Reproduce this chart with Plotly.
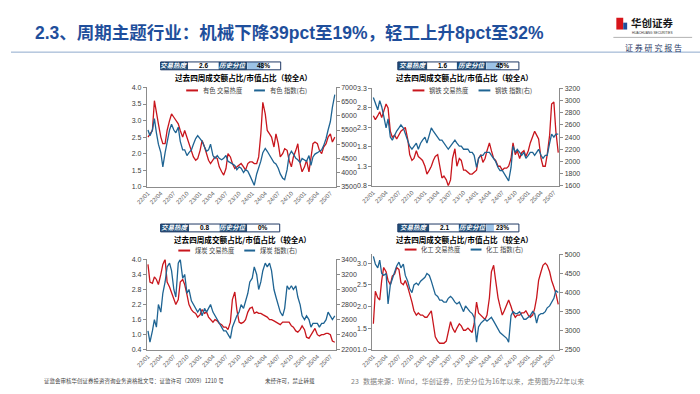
import plotly.graph_objects as go
import pandas as pd

# ---------------- data ----------------
dates = pd.date_range("2022-01-01", periods=87, freq="SMS")

sectors = ["有色", "钢铁", "煤炭", "化工"]
heat_now = ["2.6", "1.6", "0.8", "2.1"]
pct_now = [48, 45, 0, 23]

ys_heat = [2.5, 2.6, 2.7, 3.6, 3.3, 2.9, 2.5, 2.3, 2.3, 2.7,
           3.0, 3.2, 3.1, 3.0, 2.9, 2.7, 2.5, 2.7, 2.5, 2.3,
           2.1, 1.9, 1.8, 1.85, 2.1, 2.4, 2.2, 2.0, 1.8, 1.7,
           1.8, 1.9, 1.85, 1.6, 1.45, 1.35, 1.55, 2.0, 1.9, 1.7,
           1.55, 1.6, 1.65, 1.7, 1.6, 1.5, 1.7, 1.75, 1.75, 1.7,
           1.7, 1.9, 2.6, 3.55, 3.2, 2.7, 2.6, 2.5, 2.2, 2.6,
           2.3, 1.9, 2.0, 2.15, 2.1, 1.8, 1.6, 1.9, 2.1, 2.3,
           1.7, 1.45, 1.6, 1.8, 1.45, 1.9, 2.3, 2.35, 2.3, 2.1,
           2.0, 2.2, 2.3, 2.5, 2.6, 2.35, 2.5]
ys_index = [5500, 5300, 5500, 5900, 5400, 5000, 4700, 4200, 4700, 5100,
            5500, 5700, 5500, 5400, 5600, 5100, 4800, 4800, 4600, 4700,
            4800, 5000, 5200, 5300, 5200, 5100, 4900, 4750, 4800, 5000,
            4600, 4500, 4600, 4500, 4450, 4500, 4600, 4400, 4350, 4300,
            4250, 4100, 4200, 4150, 4000, 4100, 4050, 3900, 3700, 3550,
            3950, 4150, 4400, 4700, 4850, 4750, 4600, 4500, 4350, 4300,
            4150, 3950, 3800, 3750, 4100, 4600, 4750, 4650, 4500, 4450,
            4350, 4500, 4450, 4400, 4600, 4250, 4550, 4650, 4700, 4750,
            4800, 4950, 5200, 5500, 5800, 6300, 6750]

gt_heat = [2.6, 2.5, 2.6, 2.7, 2.55, 2.7, 2.9, 2.8, 2.2, 2.05,
           2.1, 2.0, 2.1, 2.2, 2.25, 2.3, 2.0, 1.6, 1.45, 1.5,
           1.7, 1.55, 1.5, 1.45, 1.3, 1.1, 1.2, 1.3, 1.45, 1.55,
           1.6, 1.3, 1.0, 1.05, 0.95, 0.8, 0.95, 1.5, 1.75, 1.3,
           1.5, 1.45, 1.2, 1.2, 1.15, 1.1, 1.1, 1.15, 1.2, 1.5,
           1.6, 1.4, 1.5, 1.7, 1.9, 1.7, 1.5, 1.45, 1.3, 1.3,
           1.2, 1.25, 1.25, 1.3, 1.5, 1.9, 1.6, 1.7, 1.5, 1.65,
           1.7, 1.55, 1.7, 1.9, 2.1, 2.2, 2.1, 2.0, 1.5, 1.3,
           1.3, 1.6, 2.1, 2.9, 2.95, 2.2, 1.65]
gt_index = [3050, 2950, 2850, 3000, 2900, 2750, 2550, 2700, 2400, 2350,
            2450, 2500, 2550, 2600, 2550, 2450, 2350, 2250, 2200, 2250,
            2300, 2200, 2300, 2350, 2400, 2300, 2450, 2550, 2500, 2450,
            2400, 2350, 2350, 2300, 2250, 2200, 2250, 2300, 2350, 2300,
            2250, 2250, 2200, 2200, 2200, 2150, 2150, 2100, 1900, 2050,
            2100, 2100, 2150, 2150, 2150, 2100, 2050, 2000, 1900, 1850,
            1850, 1800, 1750, 1680, 1900, 2250, 2150, 2200, 2150, 2100,
            2150, 2050, 2100, 2150, 2150, 2100, 2150, 2200, 2100, 2050,
            2100, 2100, 2300, 2450, 2400, 2450, 2450]

mt_heat = [3.8, 3.1, 3.05, 3.3, 3.2, 3.0, 3.4, 3.8, 4.0, 3.1,
           2.9, 2.7, 2.4, 2.2, 2.4, 3.1, 3.2, 3.0, 2.6, 2.2,
           2.0, 1.9, 1.85, 1.7, 1.8, 2.0, 1.85, 1.9, 1.7, 1.6,
           1.5, 1.6, 1.55, 1.45, 1.4, 1.3, 1.3, 1.2, 1.5, 2.4,
           2.7, 2.0, 1.5, 1.45, 1.5, 1.6, 1.9, 2.05, 2.1, 1.85,
           1.9, 1.85, 1.85, 1.8, 1.75, 1.7, 1.6, 1.6, 1.55, 1.5,
           1.45, 1.4, 1.5, 1.5, 1.5, 1.5, 1.35, 1.3, 1.15, 1.1,
           1.2, 1.35, 1.2, 0.9, 0.85, 1.0, 1.15, 1.25, 1.0, 0.95,
           1.0, 1.0, 1.05, 1.05, 1.0, 0.75, 0.7]
mt_index = [2450, 2300, 2450, 2600, 2500, 2800, 2700, 2950, 3100, 3300,
            3350, 3250, 3000, 2900, 3350, 3400, 3150, 3200, 2950, 3000,
            2850, 2800, 2750, 2700, 2750, 2650, 2750, 2700, 2750, 2800,
            2700, 2650, 2600, 2550, 2500, 2450, 2450, 2400, 2350, 2500,
            2600, 2650, 2700, 2800, 2750, 2850, 2950, 3100, 3150, 3300,
            3200, 3000, 3100, 3250, 3350, 3300, 3350, 3250, 3000, 2900,
            2800, 2700, 2650, 2750, 3050, 3000, 3050, 3000, 3050, 2900,
            2800, 2650, 2600, 2650, 2600, 2500, 2550, 2550, 2550, 2500,
            2550, 2550, 2600, 2700, 2650, 2600, 2650]

hg_heat = [1.6, 2.35, 2.2, 2.15, 2.6, 2.9, 2.8, 2.6, 2.5, 2.7,
           2.75, 2.9, 2.85, 2.55, 2.5, 2.6, 2.45, 2.3, 2.1, 1.9,
           1.8, 1.85, 1.8, 1.8, 1.75, 1.75, 1.85, 1.9, 1.6, 1.3,
           1.2, 1.15, 1.15, 1.15, 1.2, 1.45, 1.65, 1.5, 1.4, 1.5,
           1.6, 1.55, 1.45, 1.45, 1.5, 1.45, 1.4, 1.6, 2.1, 1.85,
           1.8, 1.75, 1.7, 1.8, 2.2, 2.8, 2.95, 2.6, 2.2, 2.0,
           1.8, 1.9, 2.05, 2.15, 2.0, 1.85, 1.75, 1.8, 1.8, 1.85,
           1.85, 1.9, 1.8, 1.75, 1.8, 1.95, 2.2, 2.6, 2.8, 2.95,
           3.0, 2.95, 2.8, 2.6, 2.45, 2.3, 2.05]
hg_index = [4950, 4750, 4650, 4850, 4500, 4450, 4500, 3700, 4200, 4350,
            4500, 4700, 4800, 4650, 4750, 4450, 4300, 4100, 4000, 4200,
            4250, 4200, 4300, 4350, 4400, 4500, 4450, 4300, 4100, 3950,
            3900, 3800, 3800, 3750, 3750, 3850, 3900, 3850, 3750, 3700,
            3750, 3650, 3500, 3650, 3550, 3500, 3450, 3350, 2700, 3100,
            3200, 3250, 3300, 3250, 3300, 3350, 3250, 3150, 3050, 2950,
            2900, 2850, 2800, 2700, 3400, 3500, 3450, 3450, 3500, 3400,
            3300, 3300, 3350, 3400, 3500, 3450, 3200, 3400, 3450, 3450,
            3500, 3600, 3650, 3750, 3850, 4050, 4000]

# ---------------- style / layout ----------------
RED = "#C8161D"
BLUE = "#1F6493"
NAVY = "#1F4E79"
AX = "#8C8C8C"
CJK = "Noto Sans CJK SC"
LAT = "Liberation Sans, Noto Sans CJK SC"
W, H = 700, 394
XR = ["2021-12-24", "2025-08-08"]


def X(p):
    return p / W


def Y(p):
    return 1 - p / H


panels = [
    dict(heat=ys_heat, idx=ys_index, px=(138, 330), py=(85, 186), lr=(1.0, 4.0), ld=0.5,
         rr=(3500, 7000), rd=500, box=(152, 180, 211, 240, 274), boxy=(59, 67),
         tx=236, ty=75, leg=(178, 190, 193, 247, 258, 261), legy=88),
    dict(heat=gt_heat, idx=gt_index, px=(367, 557), py=(86, 185), lr=(0.8, 3.3), ld=0.5,
         rr=(1600, 3200), rd=200, box=(393, 423, 453, 483, 516), boxy=(59, 67),
         tx=461, ty=75, leg=(408, 420, 423, 475, 487, 490), legy=88),
    dict(heat=mt_heat, idx=mt_index, px=(138, 330), py=(260, 352), lr=(0.4, 4.0), ld=0.6,
         rr=(2200, 3400), rd=200, box=(152, 181, 212, 240, 273), boxy=(224, 232),
         tx=235, ty=240, leg=(170, 182, 185, 237, 248, 251), legy=251),
    dict(heat=hg_heat, idx=hg_index, px=(367, 557), py=(255, 352), lr=(1.0, 3.2), ld=0.5,
         rr=(2500, 5000), rd=500, box=(393, 425, 455, 483, 516), boxy=(224, 232),
         tx=461, ty=240, leg=(400, 412, 415, 467, 478, 481), legy=250),
]

fig = go.Figure()
shapes = []
annotations = []
layout_axes = {}

for k, p in enumerate(panels):
    xn = "x" if k == 0 else f"x{k + 1}"
    yl = "y" if k == 0 else f"y{2 * k + 1}"
    yr = f"y{2 * k + 2}"
    xkey = "xaxis" if k == 0 else f"xaxis{k + 1}"
    ylkey = "yaxis" if k == 0 else f"yaxis{2 * k + 1}"
    yrkey = f"yaxis{2 * k + 2}"

    fig.add_trace(go.Scatter(x=dates, y=p["heat"], xaxis=xn, yaxis=yl, mode="lines",
                             line=dict(color=RED, width=1.3), showlegend=False,
                             name=f"{sectors[k]} 交易热度"))
    fig.add_trace(go.Scatter(x=dates, y=p["idx"], xaxis=xn, yaxis=yr, mode="lines",
                             line=dict(color=BLUE, width=1.3), showlegend=False,
                             name=f"{sectors[k]} 指数(右)"))

    x0, x1 = p["px"]
    y0, y1 = p["py"]
    layout_axes[xkey] = dict(domain=[X(x0), X(x1)], anchor=yl, type="date", range=XR,
                             tickformat="%y/%m", dtick="M3", tick0="2022-01-01",
                             tickangle=-45, showline=True, linecolor=AX, linewidth=1,
                             ticks="", showgrid=False, zeroline=False,
                             tickfont=dict(size=6, color="#595959", family=LAT))
    common_y = dict(anchor=xn, showline=True, linecolor=AX, linewidth=1, ticks="outside",
                    ticklen=3, tickcolor=AX, showgrid=False, zeroline=False,
                    tickfont=dict(size=7, color="#404040", family=LAT))
    layout_axes[ylkey] = dict(domain=[Y(y1), Y(y0)], range=list(p["lr"]), dtick=p["ld"],
                              tick0=p["lr"][0], tickformat=".1f", **common_y)
    layout_axes[yrkey] = dict(overlaying=yl, side="right", range=list(p["rr"]), dtick=p["rd"],
                              tick0=p["rr"][0], tickformat="d", **common_y)

    # info box
    b = p["box"]
    by0, by1 = p["boxy"]
    fills = [NAVY, "white", NAVY, "white"]
    for c in range(4):
        shapes.append(dict(type="rect", xref="paper", yref="paper",
                           x0=X(b[c]), x1=X(b[c + 1]), y0=Y(by1), y1=Y(by0),
                           fillcolor=fills[c], line=dict(width=0)))
    bar_w = (b[4] - b[3]) * pct_now[k] / 100
    if bar_w > 0:
        shapes.append(dict(type="rect", xref="paper", yref="paper",
                           x0=X(b[3]), x1=X(b[3] + bar_w), y0=Y(by1), y1=Y(by0),
                           fillcolor="#9DC3E6", line=dict(width=0)))
    shapes.append(dict(type="rect", xref="paper", yref="paper",
                       x0=X(b[0]), x1=X(b[4]), y0=Y(by1), y1=Y(by0),
                       fillcolor="rgba(0,0,0,0)", line=dict(color="#1F3864", width=1)))
    texts = ["<b><i>交易热度</i></b>", f"<b>{heat_now[k]}</b>", "<b><i>历史分位</i></b>",
             f"<b>{pct_now[k]}%</b>"]
    colors = ["white", "black", "white", "black"]
    for c in range(4):
        annotations.append(dict(xref="paper", yref="paper", x=X((b[c] + b[c + 1]) / 2),
                                y=Y((by0 + by1) / 2), text=texts[c], showarrow=False,
                                xanchor="center", yanchor="middle",
                                font=dict(size=6.5, color=colors[c], family=LAT)))
    # chart title
    annotations.append(dict(xref="paper", yref="paper", x=X(p["tx"]), y=Y(p["ty"]),
                            text="<b>过去四周成交额占比/市值占比（较全A）</b>", showarrow=False,
                            xanchor="center", yanchor="middle",
                            font=dict(size=7.6, color="black", family=CJK)))
    # legend
    lg = p["leg"]
    ly = p["legy"]
    shapes.append(dict(type="line", xref="paper", yref="paper", x0=X(lg[0]), x1=X(lg[1]),
                       y0=Y(ly), y1=Y(ly), line=dict(color=RED, width=2)))
    shapes.append(dict(type="line", xref="paper", yref="paper", x0=X(lg[3]), x1=X(lg[4]),
                       y0=Y(ly), y1=Y(ly), line=dict(color=BLUE, width=2)))
    annotations.append(dict(xref="paper", yref="paper", x=X(lg[2]), y=Y(ly),
                            text=f"{sectors[k]} 交易热度", showarrow=False, xanchor="left",
                            yanchor="middle", font=dict(size=6.3, color="#404040", family=CJK)))
    annotations.append(dict(xref="paper", yref="paper", x=X(lg[5]), y=Y(ly),
                            text=f"{sectors[k]} 指数(右)", showarrow=False, xanchor="left",
                            yanchor="middle", font=dict(size=6.3, color="#404040", family=CJK)))

# header
annotations.append(dict(xref="paper", yref="paper", x=X(22), y=Y(30),
                        text="<b>2.3、周期主题行业：机械下降39pct至19%，轻工上升8pct至32%</b>",
                        showarrow=False, xanchor="left", yanchor="middle",
                        font=dict(size=17.5, color="#1F4F9C", family=LAT)))
shapes.append(dict(type="rect", xref="paper", yref="paper", x0=X(615), x1=X(622),
                   y0=Y(26), y1=Y(14), fillcolor="#D7141A", line=dict(width=0)))
shapes.append(dict(type="rect", xref="paper", yref="paper", x0=X(622), x1=X(626),
                   y0=Y(26), y1=Y(19), fillcolor="#1F4F9C", line=dict(width=0)))
annotations.append(dict(xref="paper", yref="paper", x=X(628), y=Y(19),
                        text="<b>华创证券</b>", showarrow=False, xanchor="left",
                        yanchor="middle", font=dict(size=10.5, color="#1a1a1a", family=CJK)))
annotations.append(dict(xref="paper", yref="paper", x=X(629), y=Y(30),
                        text="HUACHUANG SECURITIES", showarrow=False, xanchor="left",
                        yanchor="middle", font=dict(size=3.2, color="#333", family=LAT)))
shapes.append(dict(type="line", xref="paper", yref="paper", x0=X(612), x1=X(692),
                   y0=Y(34), y1=Y(34), line=dict(color="#A0A0A0", width=0.8)))
annotations.append(dict(xref="paper", yref="paper", x=X(653), y=Y(44),
                        text="证 券 研 究 报 告", showarrow=False, xanchor="center",
                        yanchor="middle", font=dict(size=8, color="#1F3864", family=CJK)))
shapes.append(dict(type="line", xref="paper", yref="paper", x0=0, x1=1,
                   y0=Y(49), y1=Y(49), line=dict(color="#8FAACC", width=1)))

# footer
foot = [
    (32, "证监会审核华创证券投资咨询业务资格批文号：证监许可（2009）1210 号", 5.5, "#404040"),
    (256, "未经许可，禁止转载", 5.5, "#404040"),
    (343, "23", 7, "#808080"),
    (356, "数据来源：Wind，华创证券，历史分位为16年以来，走势图为22年以来", 7, "#7F7F7F"),
]
for fx, ft, fs, fc in foot:
    annotations.append(dict(xref="paper", yref="paper", x=X(fx), y=Y(384), text=ft,
                            showarrow=False, xanchor="left", yanchor="middle",
                            font=dict(size=fs, color=fc, family=CJK)))

fig.update_layout(width=W, height=H, margin=dict(l=0, r=0, t=0, b=0),
                  paper_bgcolor="white", plot_bgcolor="white",
                  shapes=shapes, annotations=annotations, **layout_axes)

fig.write_html("out.html", config={"displayModeBar": False},
               post_script="document.body.style.margin='0';")
